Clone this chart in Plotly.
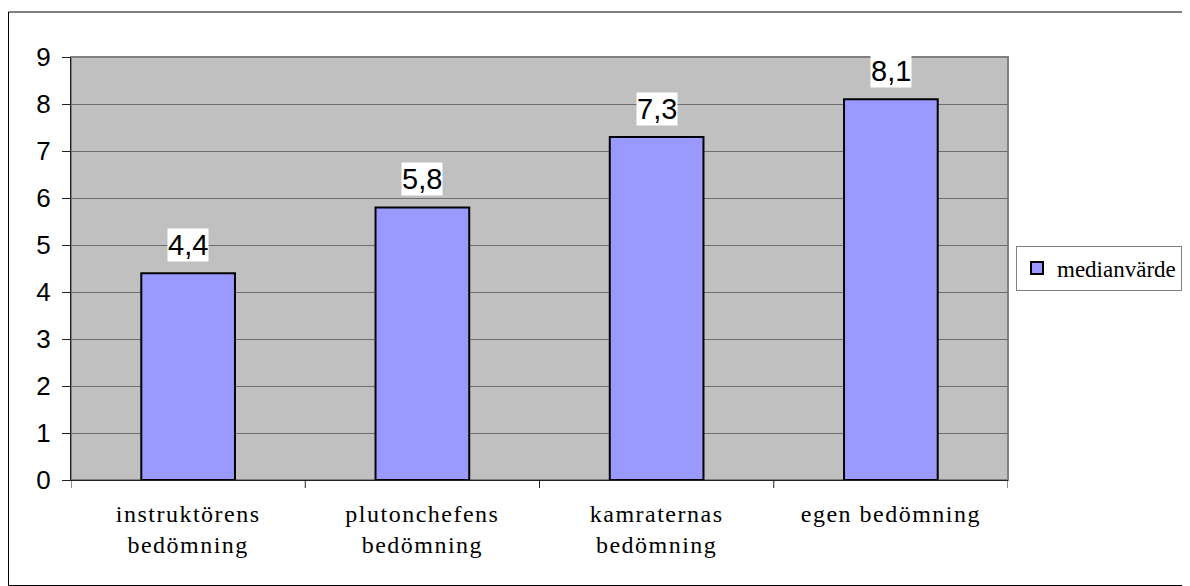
import plotly.graph_objects as go

categories = ["instruktörens<br>bedömning", "plutonchefens<br>bedömning", "kamraternas<br>bedömning", "egen bedömning"]
values = [4.4, 5.8, 7.3, 8.1]
labels = ["4,4", "5,8", "7,3", "8,1"]
series_name = "medianvärde"
y_ticks = list(range(0, 10))

# page body has an 8px margin, figure drawn inside it
W, H = 1182, 578
L, R, T, B = 63, 182, 49, 106
pw = W - L - R
ph = H - T - B

fig = go.Figure()
fig.add_trace(go.Bar(
    x=list(range(len(categories))), y=values, name=series_name,
    marker=dict(color="#9999FF", line=dict(color="black", width=2)),
    width=0.4, showlegend=True,
))

for i, (v, lab) in enumerate(zip(values, labels)):
    fig.add_annotation(x=i, y=v, text=lab, showarrow=False, yanchor="bottom", yshift=11,
                       bgcolor="white", borderpad=0,
                       font=dict(family="Liberation Sans, Arial", size=29, color="black"))

# outer frame
fig.add_shape(type="rect", xref="paper", yref="paper",
              x0=(0.5 - L) / pw, x1=(1185 - L) / pw, y0=(H - B - 577.5) / ph, y1=(H - B - 4) / ph,
              line=dict(color="black", width=1), fillcolor="rgba(0,0,0,0)", layer="below")

fig.update_layout(
    width=W, height=H,
    margin=dict(l=L, r=R, t=T, b=B, pad=0, autoexpand=False),
    paper_bgcolor="white", plot_bgcolor="#C0C0C0",
    xaxis=dict(range=[-0.5, 3.5], tickmode="array", tickvals=list(range(4)), ticktext=categories,
               showgrid=False, ticks="", showline=True, linecolor="#202020", linewidth=1,
               tickfont=dict(family="Liberation Serif, Times New Roman", size=24, color="black"),
               ticklabelstandoff=12, zeroline=False),
    yaxis=dict(range=[0, 9], tickvals=y_ticks, showgrid=True, gridcolor="#6e6e6e", gridwidth=1,
               ticks="outside", ticklen=8, tickcolor="#202020", showline=True, linecolor="#202020",
               linewidth=1, zeroline=False, ticklabelstandoff=6,
               tickfont=dict(family="Liberation Sans, Arial", size=26, color="black")),
    legend=dict(x=(1008 - L) / pw, y=(H - B - 260) / ph, xanchor="left", yanchor="middle",
                bordercolor="#808080", borderwidth=1, bgcolor="white",
                font=dict(family="Liberation Serif, Times New Roman", size=23, color="black"),
                itemwidth=30),
    bargap=0.6,
)

# x-axis category boundary ticks
for b in [-0.5, 0.5, 1.5, 2.5, 3.5]:
    fig.add_shape(type="line", xref="x", yref="paper", x0=b, x1=b, y0=0, y1=-8 / ph,
                  line=dict(color="#202020", width=1))
# plot area border
fig.add_shape(type="rect", xref="paper", yref="paper", x0=0, x1=1, y0=0, y1=1,
              line=dict(color="#808080", width=2), fillcolor="rgba(0,0,0,0)", layer="below")

post = """
document.querySelectorAll('.xtick text').forEach(function(t){t.style.letterSpacing='1.5px';});
"""
fig.write_html("out.html", post_script=post)
